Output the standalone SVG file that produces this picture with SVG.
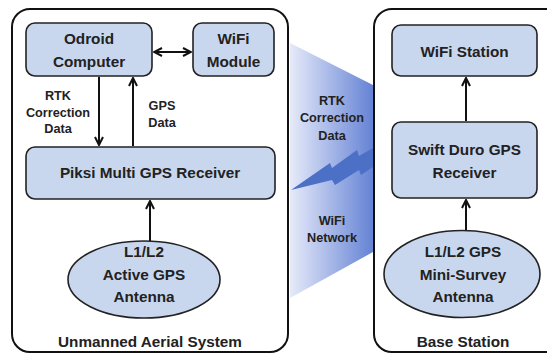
<svg xmlns="http://www.w3.org/2000/svg" width="547" height="354" viewBox="0 0 547 354">
<defs>
<linearGradient id="beam" x1="0" y1="0" x2="1" y2="0">
<stop offset="0" stop-color="#e6eaf9"/>
<stop offset="1" stop-color="#6583d5"/>
</linearGradient>
<marker id="ah" viewBox="0 0 10 10" refX="9" refY="5" markerWidth="5" markerHeight="5" orient="auto-start-reverse" markerUnits="strokeWidth">
<path d="M1,1 L9,5 L1,9" fill="none" stroke="#111" stroke-width="2"/>
</marker>
<style>
.outer{fill:#fff;stroke:#111;stroke-width:2}
.box{fill:#c9d7ee;stroke:#222;stroke-width:1.6}
.t{font-family:"Liberation Sans",Arial,sans-serif;font-weight:bold;fill:#222;text-anchor:middle}
.m{font-size:15.3px}
.s{font-size:12.7px}
.c{stroke:#111;stroke-width:2;fill:none;marker-end:url(#ah)}
</style>
</defs>
<rect width="547" height="354" fill="#fff"/>
<g id="uas">
<rect class="outer" x="12" y="9" width="276" height="343" rx="18"/>
<text class="t m" x="150" y="347">Unmanned Aerial System</text>
</g>
<g id="base">
<rect class="outer" x="374" y="9" width="200" height="343" rx="18"/>
<text class="t m" x="463" y="347">Base Station</text>
</g>
<g id="wifi-link">
<polygon points="290,43 373,85 373,252 290,298" fill="url(#beam)"/>
<polygon points="291,190 330,163 332,168 357,150 359,156 373,148 373,167 361,175 359,170 335,185 332,180" fill="#4b70c6"/>
<text class="t s" x="332" y="104.5">RTK</text>
<text class="t s" x="332" y="122">Correction</text>
<text class="t s" x="332" y="139.5">Data</text>
<text class="t s" x="332" y="224.5">WiFi</text>
<text class="t s" x="332" y="242">Network</text>
</g>
<g id="odroid">
<rect class="box" x="26" y="23" width="126" height="53" rx="9"/>
<text class="t m" x="89" y="44">Odroid</text>
<text class="t m" x="89" y="67">Computer</text>
</g>
<g id="wifi-module">
<rect class="box" x="193" y="23" width="81" height="53" rx="9"/>
<text class="t m" x="233.5" y="44">WiFi</text>
<text class="t m" x="233.5" y="67">Module</text>
</g>
<g id="piksi">
<rect class="box" x="26" y="147" width="249" height="52" rx="9"/>
<text class="t m" x="150" y="178">Piksi Multi GPS Receiver</text>
</g>
<g id="active-antenna">
<ellipse class="box" cx="144" cy="279.5" rx="76" ry="38.5"/>
<text class="t m" x="144" y="257">L1/L2</text>
<text class="t m" x="144" y="280">Active GPS</text>
<text class="t m" x="144" y="302">Antenna</text>
</g>
<g id="wifi-station">
<rect class="box" x="392" y="25" width="145" height="51" rx="9"/>
<text class="t m" x="464.5" y="57">WiFi Station</text>
</g>
<g id="swift">
<rect class="box" x="392" y="122" width="145" height="76" rx="9"/>
<text class="t m" x="464.5" y="155">Swift Duro GPS</text>
<text class="t m" x="464.5" y="178">Receiver</text>
</g>
<g id="survey-antenna">
<ellipse class="box" cx="462" cy="274" rx="78" ry="43.5"/>
<text class="t m" x="463" y="257">L1/L2 GPS</text>
<text class="t m" x="463" y="280">Mini-Survey</text>
<text class="t m" x="463" y="302">Antenna</text>
</g>
<g id="labels">
<text class="t s" x="58" y="99.5">RTK</text>
<text class="t s" x="58" y="116.5">Correction</text>
<text class="t s" x="58" y="133">Data</text>
<text class="t s" x="162" y="109.5">GPS</text>
<text class="t s" x="162" y="126.5">Data</text>
</g>
<g id="connectors">
<line class="c" x1="154" y1="52" x2="191" y2="52" style="marker-start:url(#ah)"/>
<line class="c" x1="99" y1="77" x2="99" y2="145"/>
<line class="c" x1="133" y1="146" x2="133" y2="78"/>
<line class="c" x1="150" y1="241" x2="150" y2="201"/>
<line class="c" x1="466" y1="230" x2="466" y2="200"/>
<line class="c" x1="466" y1="121" x2="466" y2="78"/>
</g>
</svg>
